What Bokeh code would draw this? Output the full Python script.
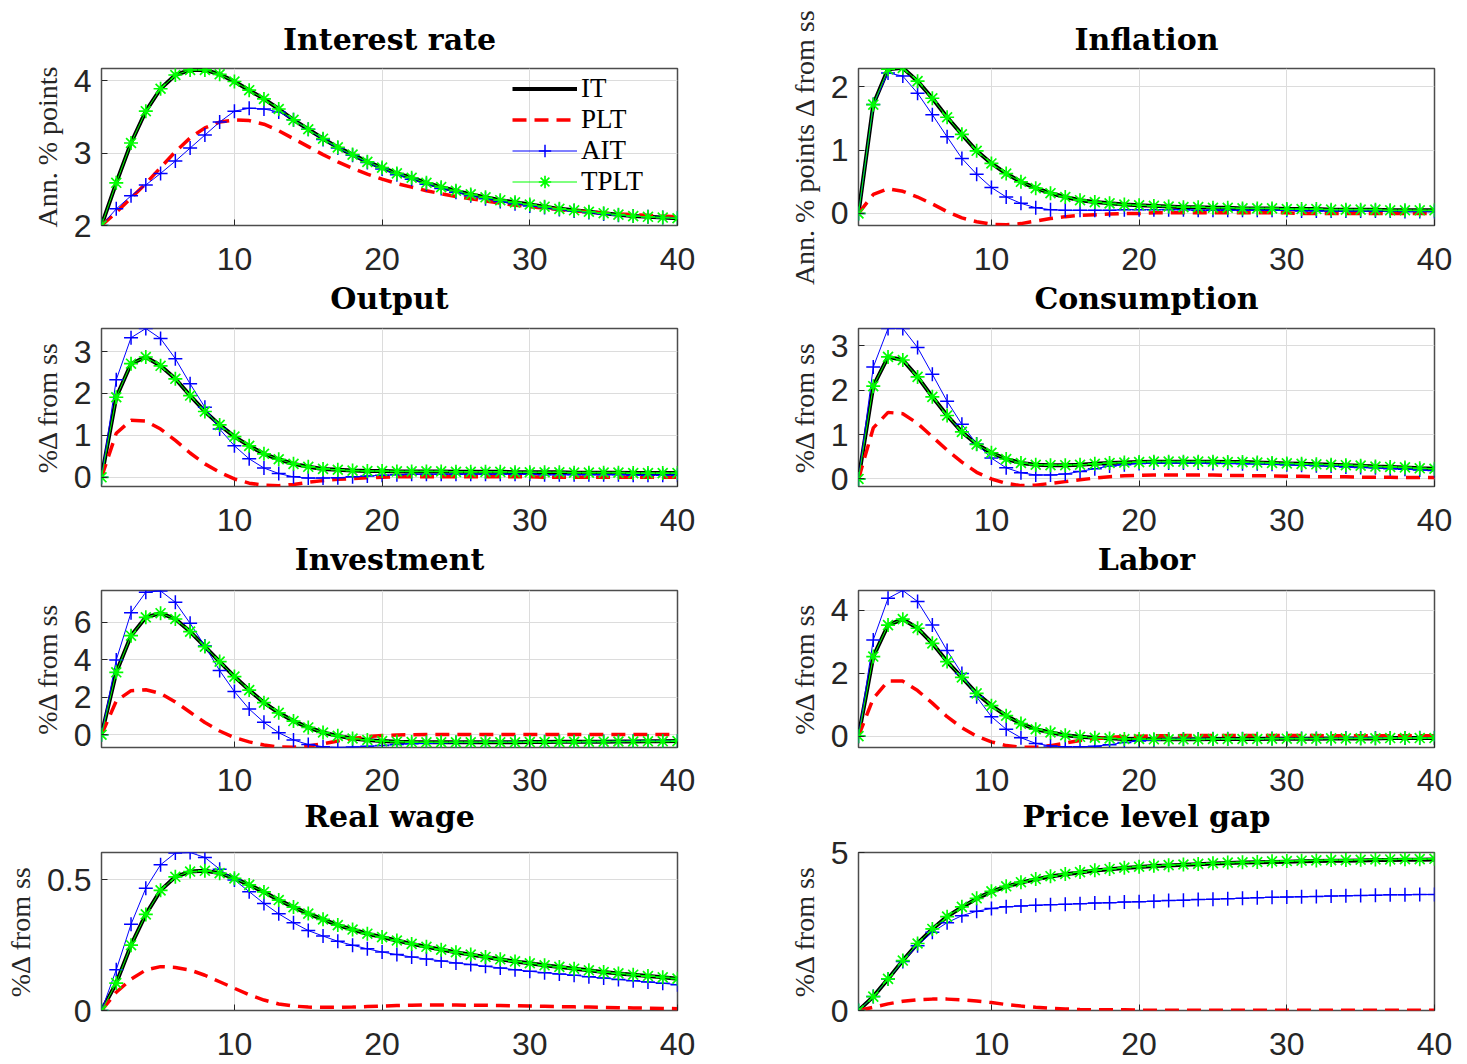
from bokeh.plotting import figure
from bokeh.layouts import gridplot
from bokeh.models import FixedTicker, Legend, LegendItem, Range1d, CustomJSTickFormatter
from bokeh.embed import file_html
from bokeh.resources import INLINE

periods = list(range(1, 41))
x_ticks = [10, 20, 30, 40]
series_names = ["IT", "PLT", "AIT", "TPLT"]

# ---------------- Interest rate ----------------
rate_it = [2.00, 2.59, 3.14, 3.58, 3.89, 4.08, 4.15, 4.15, 4.09, 3.99, 3.87, 3.75, 3.61, 3.46, 3.33, 3.20, 3.08, 2.98, 2.88, 2.80,
           2.72, 2.66, 2.59, 2.53, 2.48, 2.43, 2.39, 2.35, 2.32, 2.29, 2.26, 2.23, 2.21, 2.19, 2.17, 2.15, 2.13, 2.12, 2.11, 2.10]
rate_plt = [2.00, 2.18, 2.38, 2.58, 2.80, 3.02, 3.21, 3.35, 3.43, 3.46, 3.45, 3.40, 3.31, 3.20, 3.09, 2.98, 2.88, 2.79, 2.71, 2.64,
            2.58, 2.53, 2.48, 2.44, 2.40, 2.37, 2.34, 2.31, 2.28, 2.26, 2.24, 2.22, 2.20, 2.19, 2.17, 2.16, 2.15, 2.14, 2.13, 2.12]
rate_ait = [2.00, 2.23, 2.41, 2.56, 2.72, 2.89, 3.07, 3.25, 3.43, 3.58, 3.62, 3.61, 3.57, 3.46, 3.33, 3.19, 3.07, 2.97, 2.87, 2.78,
            2.70, 2.64, 2.57, 2.51, 2.46, 2.41, 2.37, 2.33, 2.30, 2.27, 2.25, 2.22, 2.20, 2.18, 2.16, 2.14, 2.13, 2.12, 2.11, 2.10]
rate_tplt = [2.00, 2.59, 3.14, 3.58, 3.89, 4.08, 4.15, 4.15, 4.09, 3.99, 3.87, 3.75, 3.61, 3.46, 3.33, 3.20, 3.08, 2.98, 2.88, 2.80,
             2.72, 2.66, 2.59, 2.53, 2.48, 2.43, 2.39, 2.35, 2.32, 2.29, 2.26, 2.23, 2.21, 2.19, 2.17, 2.15, 2.13, 2.12, 2.11, 2.10]

# ---------------- Inflation ----------------
infl_it = [0.00, 1.72, 2.28, 2.30, 2.09, 1.82, 1.52, 1.25, 0.99, 0.79, 0.63, 0.50, 0.40, 0.32, 0.26, 0.21, 0.18, 0.16, 0.14, 0.13,
           0.12, 0.11, 0.10, 0.10, 0.09, 0.09, 0.08, 0.08, 0.08, 0.07, 0.07, 0.07, 0.06, 0.06, 0.06, 0.06, 0.05, 0.05, 0.05, 0.05]
infl_plt = [0.00, 0.30, 0.39, 0.35, 0.26, 0.15, 0.03, -0.07, -0.13, -0.17, -0.18, -0.16, -0.12, -0.08, -0.05, -0.03, -0.02, -0.01, 0.00, 0.00,
            0.01, 0.01, 0.01, 0.01, 0.01, 0.01, 0.01, 0.01, 0.01, 0.01, 0.00, 0.00, 0.00, 0.00, 0.00, 0.00, 0.00, 0.00, 0.00, 0.00]
infl_ait = [0.00, 1.72, 2.22, 2.17, 1.90, 1.56, 1.21, 0.87, 0.62, 0.41, 0.26, 0.16, 0.09, 0.06, 0.05, 0.05, 0.05, 0.05, 0.06, 0.06,
            0.06, 0.06, 0.06, 0.05, 0.05, 0.05, 0.05, 0.05, 0.05, 0.05, 0.04, 0.04, 0.04, 0.04, 0.04, 0.04, 0.04, 0.03, 0.03, 0.03]
infl_tplt = [0.00, 1.72, 2.28, 2.30, 2.09, 1.82, 1.52, 1.25, 0.99, 0.79, 0.63, 0.50, 0.40, 0.32, 0.26, 0.21, 0.18, 0.16, 0.14, 0.13,
             0.12, 0.11, 0.10, 0.10, 0.09, 0.09, 0.08, 0.08, 0.08, 0.07, 0.07, 0.07, 0.06, 0.06, 0.06, 0.06, 0.05, 0.05, 0.05, 0.05]

# ---------------- Output ----------------
out_it = [0.00, 1.91, 2.71, 2.87, 2.66, 2.35, 1.95, 1.57, 1.25, 0.97, 0.75, 0.56, 0.43, 0.32, 0.25, 0.20, 0.18, 0.16, 0.15, 0.15,
          0.14, 0.14, 0.14, 0.14, 0.13, 0.13, 0.13, 0.13, 0.12, 0.12, 0.12, 0.12, 0.11, 0.11, 0.11, 0.11, 0.10, 0.10, 0.10, 0.10]
out_plt = [0.00, 1.05, 1.36, 1.34, 1.15, 0.88, 0.58, 0.32, 0.12, -0.04, -0.14, -0.19, -0.20, -0.17, -0.12, -0.08, -0.05, -0.03, -0.01, 0.00,
           0.01, 0.01, 0.01, 0.01, 0.01, 0.01, 0.01, 0.01, 0.01, 0.01, 0.00, 0.00, 0.00, 0.00, 0.00, 0.00, 0.00, 0.00, 0.00, 0.00]
out_ait = [0.00, 2.33, 3.33, 3.55, 3.31, 2.83, 2.23, 1.67, 1.15, 0.75, 0.44, 0.22, 0.09, 0.01, -0.02, -0.02, -0.01, 0.01, 0.03, 0.05,
           0.06, 0.07, 0.07, 0.07, 0.07, 0.07, 0.07, 0.07, 0.07, 0.07, 0.06, 0.06, 0.06, 0.06, 0.06, 0.06, 0.05, 0.05, 0.05, 0.05]
out_tplt = [0.00, 1.91, 2.71, 2.87, 2.66, 2.35, 1.95, 1.57, 1.25, 0.97, 0.75, 0.56, 0.43, 0.32, 0.25, 0.20, 0.18, 0.16, 0.15, 0.15,
            0.14, 0.14, 0.14, 0.14, 0.13, 0.13, 0.13, 0.13, 0.12, 0.12, 0.12, 0.12, 0.11, 0.11, 0.11, 0.11, 0.10, 0.10, 0.10, 0.10]

# ---------------- Consumption ----------------
cons_it = [0.00, 2.09, 2.75, 2.68, 2.30, 1.85, 1.43, 1.06, 0.78, 0.59, 0.45, 0.36, 0.32, 0.31, 0.31, 0.32, 0.34, 0.36, 0.37, 0.38,
           0.39, 0.39, 0.39, 0.39, 0.39, 0.38, 0.38, 0.37, 0.36, 0.35, 0.34, 0.33, 0.32, 0.31, 0.30, 0.28, 0.27, 0.26, 0.24, 0.23]
cons_plt = [0.00, 1.15, 1.50, 1.47, 1.25, 0.95, 0.65, 0.38, 0.15, 0.00, -0.10, -0.15, -0.14, -0.10, -0.06, -0.02, 0.02, 0.05, 0.07, 0.08,
            0.09, 0.09, 0.09, 0.09, 0.09, 0.08, 0.08, 0.07, 0.07, 0.06, 0.06, 0.05, 0.05, 0.05, 0.04, 0.04, 0.04, 0.03, 0.03, 0.03]
cons_ait = [0.00, 2.52, 3.39, 3.39, 2.96, 2.36, 1.75, 1.23, 0.79, 0.47, 0.25, 0.14, 0.09, 0.09, 0.11, 0.17, 0.23, 0.29, 0.32, 0.35,
            0.36, 0.36, 0.36, 0.36, 0.35, 0.35, 0.34, 0.34, 0.33, 0.32, 0.31, 0.30, 0.29, 0.27, 0.26, 0.25, 0.23, 0.22, 0.20, 0.19]
cons_tplt = [0.00, 2.09, 2.75, 2.68, 2.30, 1.85, 1.43, 1.06, 0.78, 0.59, 0.45, 0.36, 0.32, 0.31, 0.31, 0.32, 0.34, 0.36, 0.37, 0.38,
             0.39, 0.39, 0.39, 0.39, 0.39, 0.38, 0.38, 0.37, 0.36, 0.35, 0.34, 0.33, 0.32, 0.31, 0.30, 0.28, 0.27, 0.26, 0.24, 0.23]

# ---------------- Investment ----------------
inv_it = [0.00, 3.33, 5.28, 6.26, 6.48, 6.17, 5.50, 4.70, 3.90, 3.10, 2.38, 1.71, 1.17, 0.73, 0.39, 0.12, -0.06, -0.20, -0.28, -0.34,
          -0.37, -0.39, -0.40, -0.40, -0.40, -0.40, -0.40, -0.40, -0.40, -0.39, -0.39, -0.38, -0.38, -0.37, -0.37, -0.36, -0.36, -0.35, -0.35, -0.34]
inv_plt = [0.00, 1.80, 2.35, 2.40, 2.20, 1.75, 1.20, 0.65, 0.20, -0.15, -0.38, -0.55, -0.65, -0.67, -0.60, -0.48, -0.33, -0.20, -0.10, -0.04,
           -0.01, 0.00, 0.01, 0.01, 0.01, 0.01, 0.01, 0.01, 0.01, 0.01, 0.01, 0.01, 0.01, 0.01, 0.01, 0.01, 0.01, 0.01, 0.01, 0.01]
inv_ait = [0.00, 3.99, 6.51, 7.60, 7.67, 7.06, 5.94, 4.73, 3.42, 2.30, 1.37, 0.66, 0.11, -0.28, -0.52, -0.64, -0.68, -0.66, -0.62, -0.57,
           -0.52, -0.48, -0.45, -0.43, -0.42, -0.41, -0.40, -0.40, -0.39, -0.39, -0.38, -0.38, -0.37, -0.37, -0.36, -0.36, -0.35, -0.35, -0.34, -0.34]
inv_tplt = [0.00, 3.33, 5.28, 6.26, 6.48, 6.17, 5.50, 4.70, 3.90, 3.10, 2.38, 1.71, 1.17, 0.73, 0.39, 0.12, -0.06, -0.20, -0.28, -0.34,
            -0.37, -0.39, -0.40, -0.40, -0.40, -0.40, -0.40, -0.40, -0.40, -0.39, -0.39, -0.38, -0.38, -0.37, -0.37, -0.36, -0.36, -0.35, -0.35, -0.34]

# ---------------- Labor ----------------
lab_it = [0.00, 2.53, 3.53, 3.72, 3.43, 2.95, 2.37, 1.87, 1.36, 0.97, 0.65, 0.40, 0.22, 0.12, 0.03, -0.02, -0.05, -0.07, -0.09, -0.09,
          -0.10, -0.10, -0.10, -0.10, -0.09, -0.09, -0.09, -0.09, -0.08, -0.08, -0.08, -0.08, -0.07, -0.07, -0.07, -0.07, -0.06, -0.06, -0.06, -0.06]
lab_plt = [0.00, 1.20, 1.75, 1.75, 1.45, 1.05, 0.62, 0.27, 0.00, -0.18, -0.30, -0.35, -0.35, -0.30, -0.22, -0.14, -0.08, -0.04, -0.01, 0.00,
           0.01, 0.01, 0.02, 0.02, 0.02, 0.02, 0.02, 0.02, 0.02, 0.02, 0.02, 0.02, 0.01, 0.01, 0.01, 0.01, 0.01, 0.01, 0.01, 0.01]
lab_ait = [0.00, 3.06, 4.38, 4.63, 4.28, 3.53, 2.72, 1.99, 1.25, 0.62, 0.22, -0.05, -0.23, -0.31, -0.34, -0.34, -0.32, -0.27, -0.20, -0.15,
           -0.12, -0.10, -0.09, -0.09, -0.08, -0.08, -0.08, -0.08, -0.07, -0.07, -0.07, -0.07, -0.07, -0.06, -0.06, -0.06, -0.06, -0.06, -0.05, -0.05]
lab_tplt = [0.00, 2.53, 3.53, 3.72, 3.43, 2.95, 2.37, 1.87, 1.36, 0.97, 0.65, 0.40, 0.22, 0.12, 0.03, -0.02, -0.05, -0.07, -0.09, -0.09,
            -0.10, -0.10, -0.10, -0.10, -0.09, -0.09, -0.09, -0.09, -0.08, -0.08, -0.08, -0.08, -0.07, -0.07, -0.07, -0.07, -0.06, -0.06, -0.06, -0.06]

# ---------------- Real wage ----------------
wage_it = [0.000, 0.105, 0.250, 0.368, 0.460, 0.512, 0.532, 0.535, 0.526, 0.506, 0.481, 0.454, 0.423, 0.396, 0.371, 0.349, 0.327, 0.310, 0.294, 0.281,
           0.268, 0.255, 0.244, 0.233, 0.223, 0.214, 0.205, 0.196, 0.188, 0.181, 0.173, 0.167, 0.160, 0.154, 0.147, 0.142, 0.137, 0.132, 0.127, 0.122]
wage_plt = [0.000, 0.070, 0.120, 0.155, 0.168, 0.165, 0.155, 0.135, 0.110, 0.085, 0.060, 0.040, 0.025, 0.017, 0.013, 0.012, 0.012, 0.013, 0.015, 0.017,
            0.019, 0.020, 0.021, 0.021, 0.021, 0.020, 0.020, 0.019, 0.018, 0.017, 0.016, 0.015, 0.014, 0.013, 0.012, 0.011, 0.010, 0.009, 0.008, 0.007]
wage_ait = [0.000, 0.156, 0.330, 0.468, 0.558, 0.603, 0.605, 0.586, 0.541, 0.500, 0.455, 0.410, 0.370, 0.336, 0.306, 0.285, 0.265, 0.250, 0.236, 0.224,
            0.214, 0.205, 0.197, 0.190, 0.182, 0.176, 0.169, 0.163, 0.156, 0.150, 0.145, 0.140, 0.135, 0.129, 0.124, 0.119, 0.114, 0.109, 0.104, 0.099]
wage_tplt = [0.000, 0.105, 0.250, 0.368, 0.460, 0.512, 0.532, 0.535, 0.526, 0.506, 0.481, 0.454, 0.423, 0.396, 0.371, 0.349, 0.327, 0.310, 0.294, 0.281,
             0.268, 0.255, 0.244, 0.233, 0.223, 0.214, 0.205, 0.196, 0.188, 0.181, 0.173, 0.167, 0.160, 0.154, 0.147, 0.142, 0.137, 0.132, 0.127, 0.122]

# ---------------- Price level gap ----------------
gap_it = [0.00, 0.44, 1.00, 1.58, 2.12, 2.58, 2.97, 3.27, 3.54, 3.76, 3.92, 4.05, 4.15, 4.24, 4.31, 4.37, 4.43, 4.47, 4.51, 4.54,
          4.57, 4.59, 4.61, 4.63, 4.65, 4.67, 4.68, 4.69, 4.70, 4.71, 4.72, 4.73, 4.74, 4.74, 4.75, 4.76, 4.76, 4.77, 4.77, 4.78]
gap_plt = [0.00, 0.10, 0.21, 0.29, 0.34, 0.36, 0.36, 0.34, 0.30, 0.25, 0.19, 0.14, 0.10, 0.07, 0.05, 0.03, 0.02, 0.02, 0.02, 0.01,
           0.01, 0.01, 0.01, 0.01, 0.01, 0.01, 0.01, 0.01, 0.01, 0.01, 0.01, 0.01, 0.01, 0.01, 0.01, 0.01, 0.01, 0.01, 0.01, 0.01]
gap_ait = [0.00, 0.44, 1.00, 1.55, 2.05, 2.48, 2.78, 3.00, 3.14, 3.23, 3.28, 3.31, 3.33, 3.35, 3.36, 3.38, 3.40, 3.41, 3.43, 3.44,
           3.46, 3.48, 3.49, 3.51, 3.52, 3.54, 3.55, 3.57, 3.58, 3.59, 3.60, 3.61, 3.62, 3.63, 3.64, 3.65, 3.66, 3.66, 3.67, 3.67]
gap_tplt = [0.00, 0.44, 1.00, 1.58, 2.12, 2.58, 2.97, 3.28, 3.55, 3.77, 3.93, 4.06, 4.16, 4.25, 4.32, 4.38, 4.44, 4.48, 4.52, 4.55,
            4.58, 4.60, 4.62, 4.64, 4.66, 4.68, 4.69, 4.70, 4.72, 4.73, 4.74, 4.75, 4.76, 4.76, 4.77, 4.78, 4.78, 4.79, 4.79, 4.80]

titles = ["Interest rate", "Inflation", "Output", "Consumption", "Investment", "Labor", "Real wage", "Price level gap"]
ylabels = ["Ann. % points", "Ann. % points \u0394 from ss", "%\u0394 from ss", "%\u0394 from ss",
           "%\u0394 from ss", "%\u0394 from ss", "%\u0394 from ss", "%\u0394 from ss"]
ylims = [(2.0, 4.17), (-0.19, 2.29), (-0.22, 3.55), (-0.17, 3.39), (-0.68, 7.69), (-0.36, 4.63), (0.0, 0.605), (0.0, 5.0)]
yticks = [[2, 3, 4], [0, 1, 2], [0, 1, 2, 3], [0, 1, 2, 3], [0, 2, 4, 6], [0, 2, 4], [0, 0.5], [0, 5]]
data = [
    (rate_it, rate_plt, rate_ait, rate_tplt),
    (infl_it, infl_plt, infl_ait, infl_tplt),
    (out_it, out_plt, out_ait, out_tplt),
    (cons_it, cons_plt, cons_ait, cons_tplt),
    (inv_it, inv_plt, inv_ait, inv_tplt),
    (lab_it, lab_plt, lab_ait, lab_tplt),
    (wage_it, wage_plt, wage_ait, wage_tplt),
    (gap_it, gap_plt, gap_ait, gap_tplt),
]

# layout: (height, top, bottom, tick standoff, heading standoff) per row; (width, left, right) per column.
# The heading of the panel below is carried in the bottom band of the panel above.
row_geom = [(318, 68, 92, 22, 8), (261, 10, 92, 22, 8), (257, 11, 88, 21, 5), (228, 16, 54, 22, 0)]
col_geom = [(733, 101, 56), (734, 125, 33)]

TXT = "#262626"
TITLE_FONT = "DejaVu Serif"
figs = []
for i in range(8):
    r, c = divmod(i, 2)
    h, top, bottom, tick_so, head_so = row_geom[r]
    w, left, right = col_geom[c]
    p = figure(width=w, height=h, output_backend="svg", toolbar_location=None,
               x_range=Range1d(1, 40), y_range=Range1d(*ylims[i]),
               min_border_left=left, min_border_right=right,
               min_border_top=top, min_border_bottom=bottom)
    if r == 0:
        p.title.text = titles[i]
        p.title.align = "center"
        p.title.text_font = TITLE_FONT
        p.title.text_font_style = "bold"
        p.title.text_font_size = "30px"
        p.title.text_color = "#000000"
        p.title.standoff = 24
    else:
        p.title = None

    p.xaxis.ticker = FixedTicker(ticks=x_ticks)
    p.yaxis.ticker = FixedTicker(ticks=yticks[i])
    p.yaxis.formatter = CustomJSTickFormatter(code="return tick.toString();")
    p.xgrid.ticker = FixedTicker(ticks=x_ticks)
    p.ygrid.ticker = FixedTicker(ticks=yticks[i])
    p.grid.grid_line_color = "#dcdcdc"
    p.grid.grid_line_width = 1
    p.axis.major_label_text_font = "Liberation Sans"
    p.axis.major_label_text_font_size = "32px"
    p.axis.major_label_text_color = TXT
    p.axis.axis_line_color = None
    p.axis.major_tick_in = 6
    p.axis.major_tick_out = 0
    p.axis.major_tick_line_color = TXT
    p.axis.minor_tick_line_color = None
    p.xaxis.major_label_standoff = tick_so
    p.yaxis.major_label_standoff = 10
    if r < 3:
        # heading of the panel directly below
        p.xaxis.axis_label = titles[i + 2]
        p.xaxis.axis_label_text_font = TITLE_FONT
        p.xaxis.axis_label_text_font_style = "bold"
        p.xaxis.axis_label_text_font_size = "30px"
        p.xaxis.axis_label_text_color = "#000000"
        p.xaxis.axis_label_standoff = head_so
    p.yaxis.axis_label = ylabels[i]
    p.yaxis.axis_label_text_font = "Liberation Serif"
    p.yaxis.axis_label_text_font_style = "normal"
    p.yaxis.axis_label_text_font_size = "28px"
    p.yaxis.axis_label_text_color = TXT
    p.yaxis.axis_label_standoff = 8
    p.outline_line_color = "#4d4d4d"
    p.outline_line_width = 1.5
    p.background_fill_color = "white"
    p.border_fill_color = "white"

    it, plt_, ait, tplt = data[i]
    r_it = p.line(periods, it, line_color="#000000", line_width=4)
    r_plt = p.line(periods, plt_, line_color="#ff0000", line_width=3.5, line_dash="14 8")
    r_ait = p.line(periods, ait, line_color="#0000ff", line_width=1)
    r_aitm = p.scatter(periods, ait, marker="cross", size=14, line_color="#0000ff", line_width=1.5)
    r_tp = p.line(periods, tplt, line_color="#00ff00", line_width=1)
    r_tpm = p.scatter(periods, tplt, marker="asterisk", size=14, line_color="#00ff00", line_width=1.7)

    if i == 0:
        legend = Legend(items=[
            LegendItem(label="IT", renderers=[r_it]),
            LegendItem(label="PLT", renderers=[r_plt]),
            LegendItem(label="AIT", renderers=[r_ait, r_aitm]),
            LegendItem(label="TPLT", renderers=[r_tp, r_tpm]),
        ])
        legend.location = (411, 28)
        legend.padding = 0
        legend.margin = 0
        legend.spacing = 0
        legend.glyph_width = 65
        legend.glyph_height = 31
        legend.label_height = 31
        legend.label_standoff = 4
        legend.label_text_font = "Liberation Serif"
        legend.label_text_font_size = "27px"
        legend.label_text_color = "#000000"
        legend.background_fill_alpha = 0
        legend.border_line_color = None
        p.add_layout(legend)
    figs.append(p)

grid = gridplot([[figs[0], figs[1]], [figs[2], figs[3]], [figs[4], figs[5]], [figs[6], figs[7]]],
                toolbar_location=None)

open("out.html", "w").write(file_html(grid, INLINE))
